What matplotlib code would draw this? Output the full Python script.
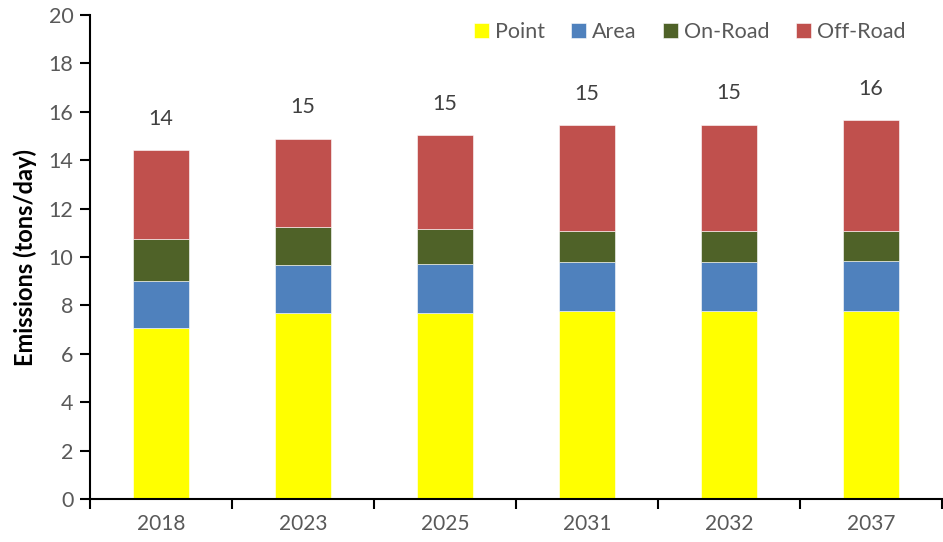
import numpy as np
import matplotlib.pyplot as plt

plt.rcParams['font.family'] = ['Lato', 'DejaVu Sans']

years = ['2018', '2023', '2025', '2031', '2032', '2037']
point = [7.07, 7.69, 7.69, 7.77, 7.77, 7.77]
area = [1.93, 1.98, 2.02, 2.02, 2.03, 2.06]
on_road = [1.74, 1.57, 1.45, 1.28, 1.26, 1.24]
off_road = [3.68, 3.64, 3.88, 4.38, 4.41, 4.59]

series = [('Point', point, '#FFFF00'),
          ('Area', area, '#4F81BD'),
          ('On-Road', on_road, '#4F6228'),
          ('Off-Road', off_road, '#C0504D')]

grey = '#595959'

fig = plt.figure(figsize=(9.43, 5.42), dpi=100)
ax = fig.add_axes([0.0954, 0.0793, 0.9036, 0.893])

x = np.arange(len(years))
bottom = np.zeros(len(years))
for name, vals, col in series:
    ax.bar(x, vals, 0.4, bottom=bottom, color=col, label=name,
           edgecolor='white', linewidth=0.4)
    bottom += np.array(vals)

# totals above each stack
for xi, tot in zip(x, bottom):
    ax.text(xi, tot + 1.3, f'{tot:.0f}', ha='center', va='center',
            fontsize=15.5, color='#404040')

ax.set_xlim(-0.5, len(years) - 0.5)
ax.set_ylim(0, 20)
ax.set_yticks(np.arange(0, 21, 2))
ax.set_xticks(x)
ax.set_xticklabels(years)
ax.set_xticks(np.arange(-0.5, len(years), 1), minor=True)
ax.tick_params(axis='x', which='major', length=0, pad=11, labelsize=15, labelcolor=grey)
ax.tick_params(axis='x', which='minor', length=7, width=1.5, direction='out')
ax.tick_params(axis='y', length=7, width=1.5, direction='out', labelsize=15.5, labelcolor=grey, pad=5)

for s in ['top', 'right']:
    ax.spines[s].set_visible(False)
for s in ['left', 'bottom']:
    ax.spines[s].set_linewidth(1.5)

ax.set_ylabel('Emissions (tons/day)', fontsize=17, fontweight='bold', labelpad=8)

leg = ax.legend(loc='upper right', ncol=4, frameon=False, fontsize=15.5,
                handlelength=0.7, handleheight=0.7, handletextpad=0.3,
                columnspacing=1.2, bbox_to_anchor=(0.98, 1.025))
for t in leg.get_texts():
    t.set_color(grey)

fig.savefig('out.png', dpi=100)
